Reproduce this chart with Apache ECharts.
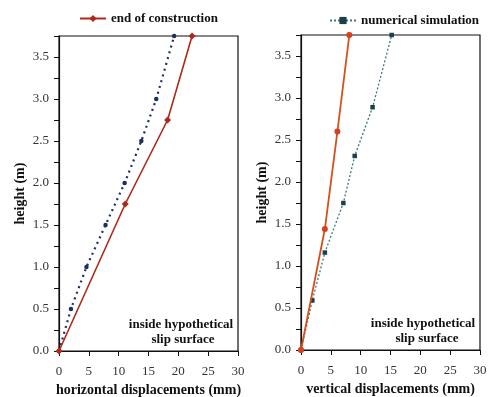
<!DOCTYPE html>
<html><head><meta charset="utf-8">
<script src="https://cdn.jsdelivr.net/npm/echarts@6/dist/echarts.min.js"></script>
<style>html,body{margin:0;padding:0;background:#fff}#c{width:489px;height:397px}</style>
</head><body><div id="c"></div>
<script>
// Left panel: horizontal displacements (mm) vs height (m)
const hEndX = [0, 11.1, 18.2, 22.3];
const hEndY = [0, 1.75, 2.75, 3.75];
const hSimX = [0, 2.0, 4.6, 7.8, 11.0, 13.8, 16.3, 19.3];
const hSimY = [0, 0.5, 1.0, 1.5, 2.0, 2.5, 3.0, 3.75];
// Right panel: vertical displacements (mm) vs height (m)
const vEndX = [0, 4.0, 6.1, 8.1];
const vEndY = [0, 1.44, 2.6, 3.75];
const vSimX = [0, 1.9, 4.0, 7.1, 9.0, 12.0, 15.2];
const vSimY = [0, 0.59, 1.16, 1.75, 2.31, 2.89, 3.75];
const xTicks = [0, 5, 10, 15, 20, 25, 30];
const yLabels = [0, 0.5, 1.0, 1.5, 2.0, 2.5, 3.0, 3.5];
const nameEnd = 'end of construction';
const nameSim = 'numerical simulation';
const annot = ['inside hypothetical', 'slip surface'];

const zip = (a, b) => a.map((v, i) => [v, b[i]]);
const serif = '"Liberation Serif", "DejaVu Serif", serif';

function xAxis(idx, name) {
  return {
    type: 'value', gridIndex: idx, min: xTicks[0], max: xTicks[xTicks.length - 1], interval: 5,
    name: name, nameLocation: 'middle', nameGap: 30,
    nameTextStyle: { fontFamily: serif, fontWeight: 'bold', fontSize: 14, color: '#111' },
    axisLine: { show: true, onZero: false, lineStyle: { color: '#111', width: 1.2 } },
    axisTick: { show: true, length: 5, lineStyle: { color: '#111' } },
    axisLabel: { fontFamily: serif, fontSize: 13, color: '#333', margin: 14 },
    splitLine: { show: false }
  };
}
function yAxis(idx) {
  return {
    type: 'value', gridIndex: idx, min: 0, max: 3.75, interval: 0.25,
    name: 'height (m)', nameLocation: 'middle', nameGap: 32,
    nameTextStyle: { fontFamily: serif, fontWeight: 'bold', fontSize: 14, color: '#111' },
    axisLine: { show: true, onZero: false, lineStyle: { color: '#111', width: 1.2 } },
    axisTick: { show: true, length: 5, lineStyle: { color: '#111' } },
    axisLabel: {
      fontFamily: serif, fontSize: 13, color: '#333', margin: 10,
      formatter: v => yLabels.some(l => Math.abs(l - v) < 1e-9) ? v.toFixed(1) : ''
    },
    splitLine: { show: false }
  };
}

const chart = echarts.init(document.getElementById('c'));
chart.setOption({
  animation: false,
  backgroundColor: '#fff',
  grid: [
    { left: 59, right: 251, top: 36, bottom: 46, outerBoundsMode: 'none', containLabel: false, show: true, borderColor: '#111', borderWidth: 1.2, backgroundColor: 'transparent' },
    { left: 301, right: 9, top: 35, bottom: 47, outerBoundsMode: 'none', containLabel: false, show: true, borderColor: '#111', borderWidth: 1.2, backgroundColor: 'transparent' }
  ],
  legend: [
    { data: [nameEnd], left: 74, top: 7, itemWidth: 26, itemHeight: 9,
      textStyle: { fontFamily: serif, fontWeight: 'bold', fontSize: 13, color: '#111' } },
    { data: [nameSim], left: 324, top: 9, itemWidth: 26, itemHeight: 9,
      textStyle: { fontFamily: serif, fontWeight: 'bold', fontSize: 13, color: '#111' } }
  ],
  xAxis: [xAxis(0, 'horizontal displacements (mm)'), xAxis(1, 'vertical displacements (mm)')],
  yAxis: [yAxis(0), yAxis(1)],
  series: [
    { name: nameEnd, type: 'line', xAxisIndex: 0, yAxisIndex: 0, data: zip(hEndX, hEndY),
      symbol: 'diamond', symbolSize: 7, color: '#b0281a',
      lineStyle: { color: '#b0281a', width: 1.6 }, itemStyle: { color: '#b0281a' }, z: 3 },
    { name: nameSim, type: 'line', xAxisIndex: 1, yAxisIndex: 1, data: zip(vSimX, vSimY),
      symbol: 'rect', symbolSize: 4.5, color: '#1d3f48',
      lineStyle: { color: '#3f7780', width: 1.3, type: [2, 2] }, itemStyle: { color: '#1d3f48' }, z: 2 },
    { name: nameSim, type: 'line', xAxisIndex: 0, yAxisIndex: 0, data: zip(hSimX, hSimY),
      symbol: 'circle', symbolSize: 4.5, color: '#1b2f62',
      lineStyle: { color: '#1b2f62', width: 2.2, type: [2, 4] }, itemStyle: { color: '#1b2f62' }, z: 2 },
    { name: nameEnd, type: 'line', xAxisIndex: 1, yAxisIndex: 1, data: zip(vEndX, vEndY),
      symbol: 'circle', symbolSize: 6, color: '#d6501e',
      lineStyle: { color: '#d6501e', width: 1.8 }, itemStyle: { color: '#d6401e' }, z: 3 }
  ],
  graphic: [
    { type: 'text', x: 181, y: 325, style: { text: annot[0], fontFamily: serif, fontWeight: 'bold', fontSize: 13, fill: '#111', align: 'center', verticalAlign: 'middle' } },
    { type: 'text', x: 183, y: 340, style: { text: annot[1], fontFamily: serif, fontWeight: 'bold', fontSize: 13, fill: '#111', align: 'center', verticalAlign: 'middle' } },
    { type: 'text', x: 423, y: 324, style: { text: annot[0], fontFamily: serif, fontWeight: 'bold', fontSize: 13, fill: '#111', align: 'center', verticalAlign: 'middle' } },
    { type: 'text', x: 427, y: 339, style: { text: annot[1], fontFamily: serif, fontWeight: 'bold', fontSize: 13, fill: '#111', align: 'center', verticalAlign: 'middle' } }
  ]
});
</script></body></html>
